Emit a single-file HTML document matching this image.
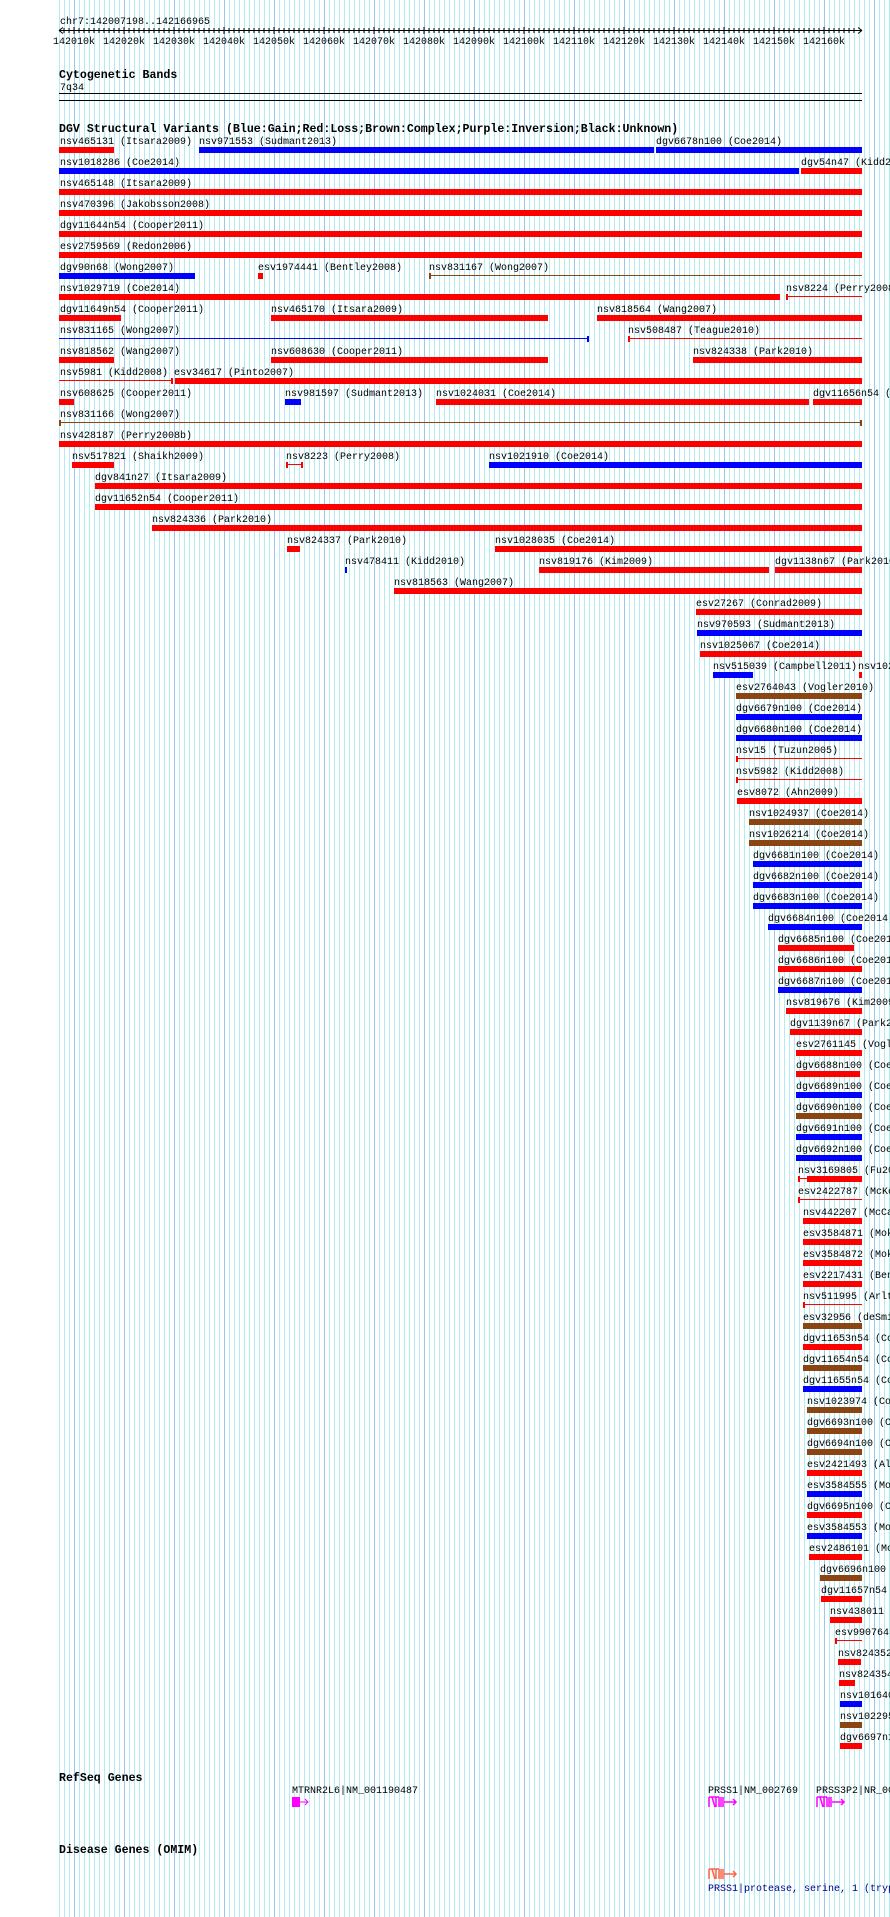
<!DOCTYPE html>
<html><head><meta charset="utf-8"><style>
html,body{margin:0;padding:0;background:#fff;width:890px;height:1917px;overflow:hidden}
svg{display:block}
text{font-family:"Liberation Mono",monospace;font-size:10px;fill:#000}
.h{font-weight:bold;font-size:11.6px}
</style></head><body>
<svg width="890" height="1917" viewBox="0 0 890 1917" xmlns="http://www.w3.org/2000/svg">
<defs>
<pattern id="mn" x="0" y="0" width="5" height="10" patternUnits="userSpaceOnUse"><rect x="4" y="0" width="1" height="10" fill="#b2ecf2"/></pattern>
<pattern id="mj" x="0" y="0" width="50" height="10" patternUnits="userSpaceOnUse"><rect x="24" y="0" width="1" height="10" fill="#99c8ec"/></pattern>
</defs>
<rect x="59" y="0" width="831" height="1917" fill="url(#mn)"/>
<rect x="59" y="0" width="831" height="1917" fill="url(#mj)"/>

<text x="60" y="24">chr7:142007198..142166965</text>
<line x1="59" y1="30.5" x2="862" y2="30.5" stroke="#000"/>
<path d="M59 30.5 l4 -3 M59 30.5 l4 3 M862 30.5 l-4 -3 M862 30.5 l-4 3" stroke="#000"/>
<rect x="59" y="27" width="803" height="3" fill="url(#mn)" opacity="0"/>
<g fill="#000">
<text x="53" y="44">142010k</text><text x="103" y="44">142020k</text><text x="153" y="44">142030k</text><text x="203" y="44">142040k</text><text x="253" y="44">142050k</text><text x="303" y="44">142060k</text><text x="353" y="44">142070k</text><text x="403" y="44">142080k</text><text x="453" y="44">142090k</text><text x="503" y="44">142100k</text><text x="553" y="44">142110k</text><text x="603" y="44">142120k</text><text x="653" y="44">142130k</text><text x="703" y="44">142140k</text><text x="753" y="44">142150k</text><text x="803" y="44">142160k</text>
</g>
<path d="M64 28v5M69 28v5M74 27v7M79 28v5M84 28v5M89 28v5M94 28v5M99 28v5M104 28v5M109 28v5M114 28v5M119 28v5M124 27v7M129 28v5M134 28v5M139 28v5M144 28v5M149 28v5M154 28v5M159 28v5M164 28v5M169 28v5M174 27v7M179 28v5M184 28v5M189 28v5M194 28v5M199 28v5M204 28v5M209 28v5M214 28v5M219 28v5M224 27v7M229 28v5M234 28v5M239 28v5M244 28v5M249 28v5M254 28v5M259 28v5M264 28v5M269 28v5M274 27v7M279 28v5M284 28v5M289 28v5M294 28v5M299 28v5M304 28v5M309 28v5M314 28v5M319 28v5M324 27v7M329 28v5M334 28v5M339 28v5M344 28v5M349 28v5M354 28v5M359 28v5M364 28v5M369 28v5M374 27v7M379 28v5M384 28v5M389 28v5M394 28v5M399 28v5M404 28v5M409 28v5M414 28v5M419 28v5M424 27v7M429 28v5M434 28v5M439 28v5M444 28v5M449 28v5M454 28v5M459 28v5M464 28v5M469 28v5M474 27v7M479 28v5M484 28v5M489 28v5M494 28v5M499 28v5M504 28v5M509 28v5M514 28v5M519 28v5M524 27v7M529 28v5M534 28v5M539 28v5M544 28v5M549 28v5M554 28v5M559 28v5M564 28v5M569 28v5M574 27v7M579 28v5M584 28v5M589 28v5M594 28v5M599 28v5M604 28v5M609 28v5M614 28v5M619 28v5M624 27v7M629 28v5M634 28v5M639 28v5M644 28v5M649 28v5M654 28v5M659 28v5M664 28v5M669 28v5M674 27v7M679 28v5M684 28v5M689 28v5M694 28v5M699 28v5M704 28v5M709 28v5M714 28v5M719 28v5M724 27v7M729 28v5M734 28v5M739 28v5M744 28v5M749 28v5M754 28v5M759 28v5M764 28v5M769 28v5M774 27v7M779 28v5M784 28v5M789 28v5M794 28v5M799 28v5M804 28v5M809 28v5M814 28v5M819 28v5M824 27v7M829 28v5M834 28v5M839 28v5M844 28v5M849 28v5M854 28v5" stroke="#000" stroke-width="1"/>

<text class="h" x="59" y="78">Cytogenetic Bands</text>
<text x="60" y="90">7q34</text>
<rect x="59" y="93" width="803" height="1" fill="#000"/>
<rect x="59" y="100" width="803" height="1" fill="#000"/>

<text class="h" x="59" y="132">DGV Structural Variants (Blue:Gain;Red:Loss;Brown:Complex;Purple:Inversion;Black:Unknown)</text>

<!-- rows -->
<g transform="translate(0,147)"><text x="60" y="-3">nsv465131 (Itsara2009)</text><rect x="59" width="55" height="6" fill="#f00"/><text x="199" y="-3">nsv971553 (Sudmant2013)</text><rect x="199" width="455" height="6" fill="#00f"/><text x="656" y="-3">dgv6678n100 (Coe2014)</text><rect x="656" width="206" height="6" fill="#00f"/></g>
<g transform="translate(0,168)"><text x="60" y="-3">nsv1018286 (Coe2014)</text><rect x="59" width="740" height="6" fill="#00f"/><text x="801" y="-3">dgv54n47 (Kidd2008)</text><rect x="801" width="61" height="6" fill="#f00"/></g>
<g transform="translate(0,189)"><text x="60" y="-3">nsv465148 (Itsara2009)</text><rect x="59" width="803" height="6" fill="#f00"/></g>
<g transform="translate(0,210)"><text x="60" y="-3">nsv470396 (Jakobsson2008)</text><rect x="59" width="803" height="6" fill="#f00"/></g>
<g transform="translate(0,231)"><text x="60" y="-3">dgv11644n54 (Cooper2011)</text><rect x="59" width="803" height="6" fill="#f00"/></g>
<g transform="translate(0,252)"><text x="60" y="-3">esv2759569 (Redon2006)</text><rect x="59" width="803" height="6" fill="#f00"/></g>
<g transform="translate(0,273)"><text x="60" y="-3">dgv90n68 (Wong2007)</text><rect x="59" width="136" height="6" fill="#00f"/><text x="258" y="-3">esv1974441 (Bentley2008)</text><rect x="258" width="5" height="6" fill="#f00"/><text x="429" y="-3">nsv831167 (Wong2007)</text><rect x="429" y="0" width="2" height="6" fill="#8b4513"/><rect x="429" y="2" width="433" height="1" fill="#8b4513"/></g>
<g transform="translate(0,294)"><text x="60" y="-3">nsv1029719 (Coe2014)</text><rect x="59" width="721" height="6" fill="#f00"/><text x="786" y="-3">nsv8224 (Perry2008)</text><rect x="786" y="0" width="2" height="6" fill="#f00"/><rect x="786" y="2" width="76" height="1" fill="#f00"/></g>
<g transform="translate(0,315)"><text x="60" y="-3">dgv11649n54 (Cooper2011)</text><rect x="59" width="62" height="6" fill="#f00"/><text x="271" y="-3">nsv465170 (Itsara2009)</text><rect x="271" width="277" height="6" fill="#f00"/><text x="597" y="-3">nsv818564 (Wang2007)</text><rect x="597" width="265" height="6" fill="#f00"/></g>
<g transform="translate(0,336)"><text x="60" y="-3">nsv831165 (Wong2007)</text><rect x="59" y="2" width="529" height="1" fill="#00f"/><rect x="587" y="0" width="2" height="6" fill="#00f"/><text x="628" y="-3">nsv508487 (Teague2010)</text><rect x="628" y="0" width="2" height="6" fill="#f00"/><rect x="628" y="2" width="234" height="1" fill="#f00"/></g>
<g transform="translate(0,357)"><text x="60" y="-3">nsv818562 (Wang2007)</text><rect x="59" width="55" height="6" fill="#f00"/><text x="271" y="-3">nsv608630 (Cooper2011)</text><rect x="271" width="277" height="6" fill="#f00"/><text x="693" y="-3">nsv824338 (Park2010)</text><rect x="693" width="169" height="6" fill="#f00"/></g>
<g transform="translate(0,378)"><text x="60" y="-3">nsv5981 (Kidd2008) esv34617 (Pinto2007)</text><rect x="59" y="2" width="113" height="1" fill="#f00"/><rect x="171" y="0" width="2" height="6" fill="#f00"/><rect x="175" width="687" height="6" fill="#f00"/></g>
<g transform="translate(0,399)"><text x="60" y="-3">nsv608625 (Cooper2011)</text><rect x="59" width="15" height="6" fill="#f00"/><text x="285" y="-3">nsv981597 (Sudmant2013)</text><rect x="285" width="16" height="6" fill="#00f"/><text x="436" y="-3">nsv1024031 (Coe2014)</text><rect x="436" width="373" height="6" fill="#f00"/><text x="813" y="-3">dgv11656n54 (Cooper2011)</text><rect x="813" width="49" height="6" fill="#f00"/></g>
<g transform="translate(0,420)"><text x="60" y="-3">nsv831166 (Wong2007)</text><rect x="59" y="0" width="2" height="6" fill="#8b4513"/><rect x="59" y="2" width="803" height="1" fill="#8b4513"/><rect x="860" y="0" width="2" height="6" fill="#8b4513"/></g>
<g transform="translate(0,441)"><text x="60" y="-3">nsv428187 (Perry2008b)</text><rect x="59" width="803" height="6" fill="#f00"/></g>
<g transform="translate(0,462)"><text x="72" y="-3">nsv517821 (Shaikh2009)</text><rect x="72" width="42" height="6" fill="#f00"/><text x="286" y="-3">nsv8223 (Perry2008)</text><rect x="286" y="0" width="2" height="6" fill="#f00"/><rect x="286" y="2" width="16" height="1" fill="#f00"/><rect x="301" y="0" width="2" height="6" fill="#f00"/><text x="489" y="-3">nsv1021910 (Coe2014)</text><rect x="489" width="373" height="6" fill="#00f"/></g>
<g transform="translate(0,483)"><text x="95" y="-3">dgv841n27 (Itsara2009)</text><rect x="95" width="767" height="6" fill="#f00"/></g>
<g transform="translate(0,504)"><text x="95" y="-3">dgv11652n54 (Cooper2011)</text><rect x="95" width="767" height="6" fill="#f00"/></g>
<g transform="translate(0,525)"><text x="152" y="-3">nsv824336 (Park2010)</text><rect x="152" width="710" height="6" fill="#f00"/></g>
<g transform="translate(0,546)"><text x="287" y="-3">nsv824337 (Park2010)</text><rect x="287" width="13" height="6" fill="#f00"/><text x="495" y="-3">nsv1028035 (Coe2014)</text><rect x="495" width="367" height="6" fill="#f00"/></g>
<g transform="translate(0,567)"><text x="345" y="-3">nsv478411 (Kidd2010)</text><rect x="345" width="2" height="6" fill="#00f"/><text x="539" y="-3">nsv819176 (Kim2009)</text><rect x="539" width="230" height="6" fill="#f00"/><text x="775" y="-3">dgv1138n67 (Park2010)</text><rect x="775" width="87" height="6" fill="#f00"/></g>
<g transform="translate(0,588)"><text x="394" y="-3">nsv818563 (Wang2007)</text><rect x="394" width="468" height="6" fill="#f00"/></g>
<g transform="translate(0,609)"><text x="696" y="-3">esv27267 (Conrad2009)</text><rect x="696" width="166" height="6" fill="#f00"/></g>
<g transform="translate(0,630)"><text x="697" y="-3">nsv970593 (Sudmant2013)</text><rect x="697" width="165" height="6" fill="#00f"/></g>
<g transform="translate(0,651)"><text x="700" y="-3">nsv1025067 (Coe2014)</text><rect x="700" width="162" height="6" fill="#f00"/></g>
<g transform="translate(0,672)"><text x="713" y="-3">nsv515039 (Campbell2011)</text><rect x="713" width="40" height="6" fill="#00f"/><text x="858" y="-3">nsv1024</text><rect x="859" width="3" height="6" fill="#f00"/></g>
<g transform="translate(0,693)"><text x="736" y="-3">esv2764043 (Vogler2010)</text><rect x="736" width="126" height="6" fill="#8b4513"/></g>
<g transform="translate(0,714)"><text x="736" y="-3">dgv6679n100 (Coe2014)</text><rect x="736" width="126" height="6" fill="#00f"/></g>
<g transform="translate(0,735)"><text x="736" y="-3">dgv6680n100 (Coe2014)</text><rect x="736" width="126" height="6" fill="#00f"/></g>
<g transform="translate(0,756)"><text x="736" y="-3">nsv15 (Tuzun2005)</text><rect x="736" y="0" width="2" height="6" fill="#f00"/><rect x="736" y="2" width="126" height="1" fill="#f00"/></g>
<g transform="translate(0,777)"><text x="736" y="-3">nsv5982 (Kidd2008)</text><rect x="736" y="0" width="2" height="6" fill="#f00"/><rect x="736" y="2" width="126" height="1" fill="#f00"/></g>
<g transform="translate(0,798)"><text x="737" y="-3">esv8072 (Ahn2009)</text><rect x="737" width="125" height="6" fill="#f00"/></g>
<g transform="translate(0,819)"><text x="749" y="-3">nsv1024937 (Coe2014)</text><rect x="749" width="113" height="6" fill="#8b4513"/></g>
<g transform="translate(0,840)"><text x="749" y="-3">nsv1026214 (Coe2014)</text><rect x="749" width="113" height="6" fill="#8b4513"/></g>
<g transform="translate(0,861)"><text x="753" y="-3">dgv6681n100 (Coe2014)</text><rect x="753" width="109" height="6" fill="#00f"/></g>
<g transform="translate(0,882)"><text x="753" y="-3">dgv6682n100 (Coe2014)</text><rect x="753" width="109" height="6" fill="#00f"/></g>
<g transform="translate(0,903)"><text x="753" y="-3">dgv6683n100 (Coe2014)</text><rect x="753" width="109" height="6" fill="#00f"/></g>
<g transform="translate(0,924)"><text x="768" y="-3">dgv6684n100 (Coe2014)</text><rect x="768" width="94" height="6" fill="#00f"/></g>
<g transform="translate(0,945)"><text x="778" y="-3">dgv6685n100 (Coe2014)</text><rect x="778" width="76" height="6" fill="#f00"/></g>
<g transform="translate(0,966)"><text x="778" y="-3">dgv6686n100 (Coe2014)</text><rect x="778" width="84" height="6" fill="#f00"/></g>
<g transform="translate(0,987)"><text x="778" y="-3">dgv6687n100 (Coe2014)</text><rect x="778" width="84" height="6" fill="#00f"/></g>
<g transform="translate(0,1008)"><text x="786" y="-3">nsv819676 (Kim2009)</text><rect x="786" width="76" height="6" fill="#f00"/></g>
<g transform="translate(0,1029)"><text x="790" y="-3">dgv1139n67 (Park2010)</text><rect x="790" width="72" height="6" fill="#f00"/></g>
<g transform="translate(0,1050)"><text x="796" y="-3">esv2761145 (Vogler2010)</text><rect x="796" width="66" height="6" fill="#f00"/></g>
<g transform="translate(0,1071)"><text x="796" y="-3">dgv6688n100 (Coe2014)</text><rect x="796" width="64" height="6" fill="#f00"/></g>
<g transform="translate(0,1092)"><text x="796" y="-3">dgv6689n100 (Coe2014)</text><rect x="796" width="66" height="6" fill="#00f"/></g>
<g transform="translate(0,1113)"><text x="796" y="-3">dgv6690n100 (Coe2014)</text><rect x="796" width="66" height="6" fill="#8b4513"/></g>
<g transform="translate(0,1134)"><text x="796" y="-3">dgv6691n100 (Coe2014)</text><rect x="796" width="66" height="6" fill="#00f"/></g>
<g transform="translate(0,1155)"><text x="796" y="-3">dgv6692n100 (Coe2014)</text><rect x="796" width="66" height="6" fill="#00f"/></g>
<g transform="translate(0,1176)"><text x="798" y="-3">nsv3169805 (Fu2010)</text><rect x="798" y="0" width="2" height="6" fill="#f00"/><rect x="798" y="2" width="10" height="1" fill="#f00"/><rect x="807" width="55" height="6" fill="#f00"/></g>
<g transform="translate(0,1197)"><text x="798" y="-3">esv2422787 (McKernan2009)</text><rect x="798" y="0" width="2" height="6" fill="#f00"/><rect x="798" y="2" width="64" height="1" fill="#f00"/></g>
<g transform="translate(0,1218)"><text x="803" y="-3">nsv442207 (McCarroll2008)</text><rect x="803" width="59" height="6" fill="#f00"/></g>
<g transform="translate(0,1239)"><text x="803" y="-3">esv3584871 (Mokhtari2015)</text><rect x="803" width="59" height="6" fill="#f00"/></g>
<g transform="translate(0,1260)"><text x="803" y="-3">esv3584872 (Mokhtari2015)</text><rect x="803" width="59" height="6" fill="#f00"/></g>
<g transform="translate(0,1281)"><text x="803" y="-3">esv2217431 (Bentley2008)</text><rect x="803" width="59" height="6" fill="#f00"/></g>
<g transform="translate(0,1302)"><text x="803" y="-3">nsv511995 (Arlt2011)</text><rect x="803" y="0" width="2" height="6" fill="#f00"/><rect x="803" y="2" width="59" height="1" fill="#f00"/></g>
<g transform="translate(0,1323)"><text x="803" y="-3">esv32956 (deSmith2007)</text><rect x="803" width="59" height="6" fill="#8b4513"/></g>
<g transform="translate(0,1344)"><text x="803" y="-3">dgv11653n54 (Cooper2011)</text><rect x="803" width="59" height="6" fill="#f00"/></g>
<g transform="translate(0,1365)"><text x="803" y="-3">dgv11654n54 (Cooper2011)</text><rect x="803" width="59" height="6" fill="#8b4513"/></g>
<g transform="translate(0,1386)"><text x="803" y="-3">dgv11655n54 (Cooper2011)</text><rect x="803" width="59" height="6" fill="#00f"/></g>
<g transform="translate(0,1407)"><text x="807" y="-3">nsv1023974 (Coe2014)</text><rect x="807" width="55" height="6" fill="#8b4513"/></g>
<g transform="translate(0,1428)"><text x="807" y="-3">dgv6693n100 (Coe2014)</text><rect x="807" width="55" height="6" fill="#8b4513"/></g>
<g transform="translate(0,1449)"><text x="807" y="-3">dgv6694n100 (Coe2014)</text><rect x="807" width="55" height="6" fill="#8b4513"/></g>
<g transform="translate(0,1470)"><text x="807" y="-3">esv2421493 (Alkan2009)</text><rect x="807" width="55" height="6" fill="#f00"/></g>
<g transform="translate(0,1491)"><text x="807" y="-3">esv3584555 (Mokhtari2015)</text><rect x="807" width="55" height="6" fill="#00f"/></g>
<g transform="translate(0,1512)"><text x="807" y="-3">dgv6695n100 (Coe2014)</text><rect x="807" width="55" height="6" fill="#f00"/></g>
<g transform="translate(0,1533)"><text x="807" y="-3">esv3584553 (Mokhtari2015)</text><rect x="807" width="55" height="6" fill="#00f"/></g>
<g transform="translate(0,1554)"><text x="809" y="-3">esv2486101 (Mokhtari2015)</text><rect x="809" width="53" height="6" fill="#f00"/></g>
<g transform="translate(0,1575)"><text x="820" y="-3">dgv6696n100</text><rect x="820" width="42" height="6" fill="#8b4513"/></g>
<g transform="translate(0,1596)"><text x="821" y="-3">dgv11657n54</text><rect x="821" width="41" height="6" fill="#f00"/></g>
<g transform="translate(0,1617)"><text x="830" y="-3">nsv438011</text><rect x="830" width="32" height="6" fill="#f00"/></g>
<g transform="translate(0,1638)"><text x="835" y="-3">esv990764</text><rect x="835" y="0" width="2" height="6" fill="#f00"/><rect x="835" y="2" width="27" height="1" fill="#f00"/></g>
<g transform="translate(0,1659)"><text x="838" y="-3">nsv824352</text><rect x="838" width="23" height="6" fill="#f00"/></g>
<g transform="translate(0,1680)"><text x="839" y="-3">nsv824354</text><rect x="839" width="16" height="6" fill="#f00"/></g>
<g transform="translate(0,1701)"><text x="840" y="-3">nsv1016400</text><rect x="840" width="22" height="6" fill="#00f"/></g>
<g transform="translate(0,1722)"><text x="840" y="-3">nsv1022950</text><rect x="840" width="22" height="6" fill="#8b4513"/></g>
<g transform="translate(0,1743)"><text x="840" y="-3">dgv6697n100</text><rect x="840" width="22" height="6" fill="#f00"/></g>

<!-- RefSeq genes -->
<text class="h" x="59" y="1781">RefSeq Genes</text>
<text x="292" y="1793">MTRNR2L6|NM_001190487</text>
<rect x="292" y="1797" width="8" height="10" fill="#f0f"/>
<path d="M300 1802h8M305 1799l3 3-3 3" stroke="#f0f" fill="none"/>
<text x="708" y="1793">PRSS1|NM_002769</text>
<path d="M709 1797v10M712 1797l3 10M716 1797v10M719 1797v10M721 1797v10M723 1797v10M724 1802h12M733 1799l3 3-3 3M709 1797h10" stroke="#f0f" stroke-width="1.5" fill="none"/>
<text x="816" y="1793">PRSS3P2|NR_001296</text>
<path d="M817 1797v10M820 1797l3 10M824 1797v10M827 1797v10M829 1797v10M831 1797v10M832 1802h12M841 1799l3 3-3 3M817 1797h10" stroke="#f0f" stroke-width="1.5" fill="none"/>

<text class="h" x="59" y="1853">Disease Genes (OMIM)</text>
<path d="M709 1869v10M712 1869l3 10M716 1869v10M719 1869v10M721 1869v10M723 1869v10M724 1874h12M733 1871l3 3-3 3M709 1869h10" stroke="#ff6347" stroke-width="1.5" fill="none"/>
<text x="708" y="1891" style="fill:#00008b">PRSS1|protease, serine, 1 (trypsin 1)</text>
</svg>
</body></html>
